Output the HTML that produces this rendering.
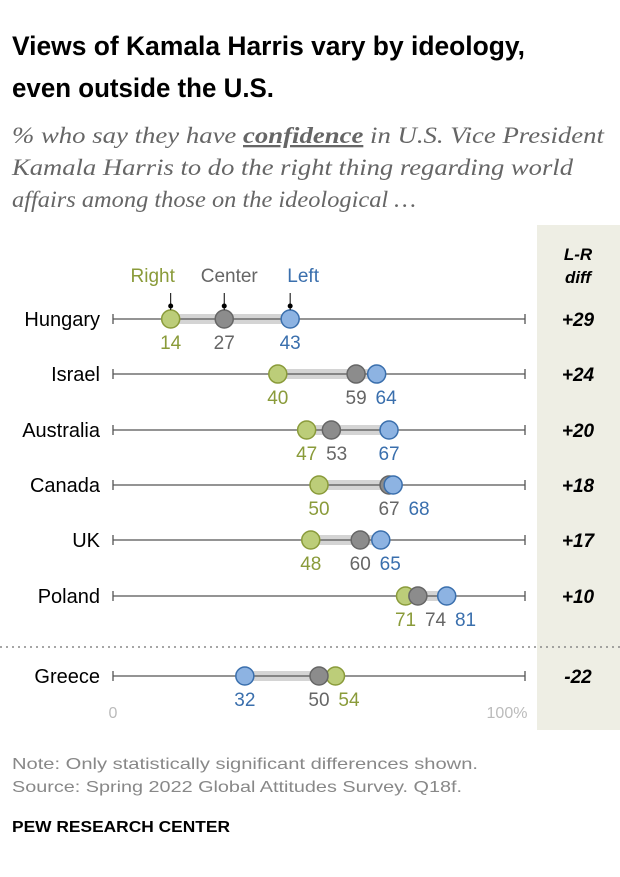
<!DOCTYPE html>
<html><head><meta charset="utf-8">
<style>
body{margin:0;width:620px;height:872px;background:#fff;font-family:"Liberation Sans",sans-serif;overflow:hidden}
svg text{font-family:"Liberation Sans",sans-serif}
</style></head><body>
<svg width="620" height="872">
<rect x="537" y="225" width="83" height="505" fill="#eeeee4"/>
<text x="12" y="55" font-size="27" font-weight="bold" fill="#000" textLength="513" lengthAdjust="spacingAndGlyphs">Views of Kamala Harris vary by ideology,</text>
<text x="12" y="97" font-size="27" font-weight="bold" fill="#000" textLength="262" lengthAdjust="spacingAndGlyphs">even outside the U.S.</text>
<g font-style="italic" font-size="23" fill="#666">
<text x="12" y="143" textLength="592" lengthAdjust="spacingAndGlyphs" style="font-family:'Liberation Serif',serif">% who say they have <tspan font-weight="bold" text-decoration="underline">confidence</tspan> in U.S. Vice President</text>
<text x="12" y="175" textLength="561" lengthAdjust="spacingAndGlyphs" style="font-family:'Liberation Serif',serif">Kamala Harris to do the right thing regarding world</text>
<text x="12" y="207" textLength="404" lengthAdjust="spacingAndGlyphs" style="font-family:'Liberation Serif',serif">affairs among those on the ideological …</text>
</g>
<text x="578" y="260" font-size="17" font-weight="bold" font-style="italic" text-anchor="middle">L-R</text>
<text x="578" y="283" font-size="17" font-weight="bold" font-style="italic" text-anchor="middle">diff</text>
<line x1="0" y1="647" x2="620" y2="647" stroke="#888" stroke-dasharray="2,4" stroke-width="1.5"/>
<g id="rows"></g>
<text x="113" y="718" font-size="16" fill="#bbb" text-anchor="middle">0</text>
<text x="507" y="718" font-size="16" fill="#bbb" text-anchor="middle">100%</text>
<text x="12" y="769" font-size="16" fill="#888" textLength="466" lengthAdjust="spacingAndGlyphs">Note: Only statistically significant differences shown.</text>
<text x="12" y="792" font-size="16" fill="#888" textLength="450" lengthAdjust="spacingAndGlyphs">Source: Spring 2022 Global Attitudes Survey. Q18f.</text>
<text x="12" y="832" font-size="16" font-weight="bold" fill="#000" textLength="218" lengthAdjust="spacingAndGlyphs">PEW RESEARCH CENTER</text>
</svg>
<script>
const countries=["Hungary","Israel","Australia","Canada","UK","Poland","Greece"];
const rightVals=[14,40,47,50,48,71,54];
const centerVals=[27,59,53,67,60,74,50];
const leftVals=[43,64,67,68,65,81,32];
const diffs=["+29","+24","+20","+18","+17","+10","-22"];
const rowY=[319,374,430,485,540,596,676];
const NS="http://www.w3.org/2000/svg";
const g=document.getElementById('rows');
const xs=v=>113+v*4.12;
function mk(tag,a,p){const e=document.createElementNS(NS,tag);for(const k in a)e.setAttribute(k,a[k]);(p||g).appendChild(e);return e;}
const cols={r:["#bccd79","#8a9b3a","#8a9b3a"],c:["#8c8c8c","#666","#666"],l:["#8db3e2","#3a6fad","#3a6fad"]};
const legendDx={r:-18,c:5,l:13};
countries.forEach((c,i)=>{
 const y=rowY[i];
 const row=mk('g',{});
 
 
 const t=mk('text',{x:100,y:y+7,'font-size':20,'text-anchor':'end',fill:'#000'},row);t.textContent=c;
 
 
 mk('line',{x1:xs(0),y1:y,x2:xs(100),y2:y,stroke:'#555','stroke-width':1.3},row);
 mk('line',{x1:xs(0),y1:y-5,x2:xs(0),y2:y+5,stroke:'#555','stroke-width':1.3},row);
 mk('line',{x1:xs(100),y1:y-5,x2:xs(100),y2:y+5,stroke:'#555','stroke-width':1.3},row);
 const vs=[rightVals[i],centerVals[i],leftVals[i]];
 const mn=Math.min(...vs),mx=Math.max(...vs);
 mk('rect',{x:xs(mn),y:y-5,width:xs(mx)-xs(mn),height:10,fill:'#d4d4d4'},row);
 mk('line',{x1:xs(mn),y1:y,x2:xs(mx),y2:y,stroke:'#555','stroke-width':1.3},row);
 const pts=[['r',rightVals[i],'Right'],['c',centerVals[i],'Center'],['l',leftVals[i],'Left']];
 pts.forEach(([k,v,lab])=>{
  const d=mk('circle',{cx:xs(v),cy:y,r:9,fill:cols[k][0],stroke:cols[k][1],'stroke-width':1.5},row);
  
  
 });
 const sorted=pts.slice().sort((a,b)=>a[1]-b[1]);
 const lx=sorted.map(p=>xs(p[1]));
 for(let j=1;j<lx.length;j++){if(lx[j]-lx[j-1]<30)lx[j]=lx[j-1]+30;}
 sorted.forEach((p,j)=>{
  const tt=mk('text',{x:lx[j],y:y+30,'font-size':19,'text-anchor':'middle',fill:cols[p[0]][2]},row);tt.textContent=p[1];
  
  
 });
 const dt=mk('text',{x:578,y:y+7,'font-size':19,'font-weight':'bold','font-style':'italic','text-anchor':'middle',fill:'#000'},row);dt.textContent=diffs[i];
 
 
 if(i===0){
  pts.forEach(([k,v,lab])=>{
   mk('line',{x1:xs(v),y1:y-9,x2:xs(v),y2:y-26,stroke:'#000','stroke-width':1},row);
   mk('circle',{cx:xs(v),cy:y-13,r:2.5,fill:'#000'},row);
   const lt=mk('text',{x:xs(v)+legendDx[k],y:y-37,'font-size':19,'text-anchor':'middle',fill:cols[k][2]},row);lt.textContent=lab;
   
   
  });
 }
});
</script>
</body></html>
